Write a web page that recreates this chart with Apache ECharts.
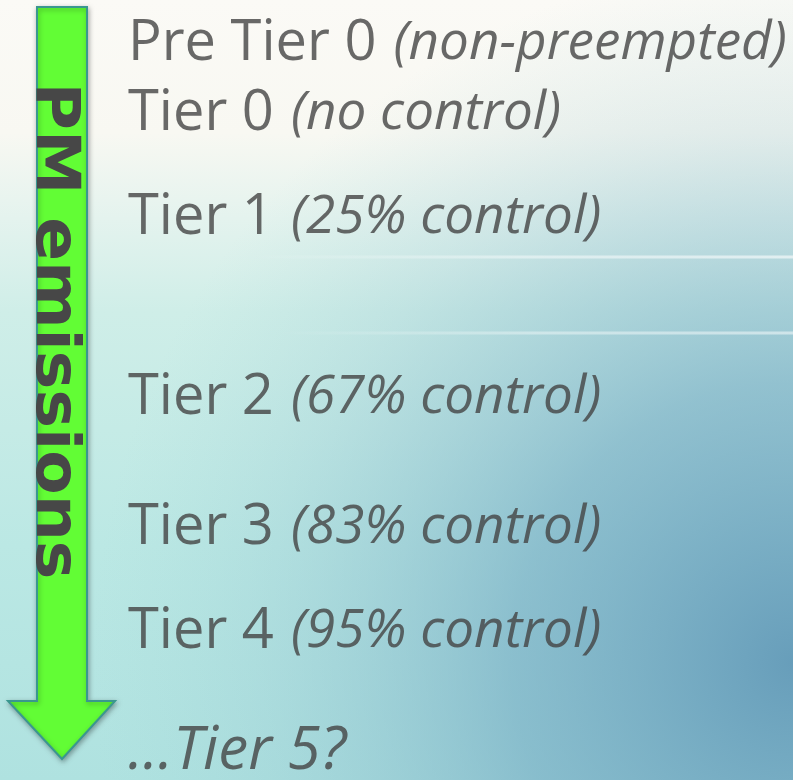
<!DOCTYPE html>
<html>
<head>
<meta charset="utf-8">
<script src="https://cdn.jsdelivr.net/npm/echarts@6/dist/echarts.min.js"></script>
<style>
html,body{margin:0;padding:0;background:#fff;}
#chart{width:793px;height:780px;}
</style>
</head>
<body>
<div id="chart"></div>
<script>
// ---- data ----
const tierNames = ['Pre Tier 0', 'Tier 0', 'Tier 1', 'Tier 2', 'Tier 3', 'Tier 4', '...Tier 5?'];
const controlNotes = ['(non-preempted)', '(no control)', '(25% control)', '(67% control)', '(83% control)', '(95% control)', ''];
// row level on a 0 (top) .. 100 (bottom) emission-ordering scale
const rowLevel = [5.6, 14.6, 27.9, 51.0, 67.7, 81.0, 96.4];
const arrowLabel = 'PM emissions';

const chart = echarts.init(document.getElementById('chart'), null, {renderer: 'canvas'});
const W = 793, H = 780;
const textColor = '#444444';
const FONT = '"Open Sans", "Noto Sans", sans-serif';

const seriesData = rowLevel.map((v) => ({value: [0, v]}));

const option = {
  animation: false,
  backgroundColor: new echarts.graphic.LinearGradient(0, 0, 0, 1, [
    {offset: 0, color: '#fbfaf6'},
    {offset: 0.17, color: '#f8f8f2'},
    {offset: 0.28, color: '#e4f3ee'},
    {offset: 0.40, color: '#cfeee8'},
    {offset: 0.70, color: '#bbe8e4'},
    {offset: 1, color: '#afe2e0'}
  ]),
  grid: {left: 128, right: 0, top: 0, bottom: 0},
  xAxis: {type: 'value', min: 0, max: 1, show: false},
  yAxis: {type: 'value', min: 0, max: 100, inverse: true, show: false},
  graphic: [
    {
      type: 'rect', z: -10, silent: true,
      shape: {x: 0, y: 0, width: W, height: H},
      style: {
        fill: new echarts.graphic.RadialGradient(1.0, 0.85, 0.9, [
          {offset: 0, color: 'rgba(95,150,182,0.90)'},
          {offset: 0.4, color: 'rgba(110,165,192,0.60)'},
          {offset: 0.75, color: 'rgba(140,190,205,0.22)'},
          {offset: 1, color: 'rgba(160,210,215,0)'}
        ])
      }
    },
    {
      type: 'line', z: -9, silent: true,
      shape: {x1: 250, y1: 257, x2: W, y2: 257},
      style: {
        lineWidth: 3,
        stroke: new echarts.graphic.LinearGradient(0, 0, 1, 0, [
          {offset: 0, color: 'rgba(255,255,255,0)'},
          {offset: 0.5, color: 'rgba(255,255,255,0.45)'},
          {offset: 1, color: 'rgba(255,255,255,0.6)'}
        ])
      }
    },
    {
      type: 'line', z: -9, silent: true,
      shape: {x1: 280, y1: 333, x2: W, y2: 333},
      style: {
        lineWidth: 3,
        stroke: new echarts.graphic.LinearGradient(0, 0, 1, 0, [
          {offset: 0, color: 'rgba(255,255,255,0)'},
          {offset: 0.5, color: 'rgba(255,255,255,0.4)'},
          {offset: 1, color: 'rgba(255,255,255,0.5)'}
        ])
      }
    },
    {
      type: 'polygon', z: 10, silent: true,
      shape: {points: [[37, 7], [87, 7], [87, 701], [115, 701], [62, 759], [8, 701], [37, 701]]},
      style: {
        fill: '#62fd35', stroke: '#3a978f', lineWidth: 2,
        shadowBlur: 5, shadowColor: 'rgba(0,0,0,0.3)', shadowOffsetX: 1, shadowOffsetY: 2
      }
    },
    {
      type: 'text', z: 11, silent: true,
      x: 53, y: 331, rotation: -Math.PI / 2, scaleX: 1.08,
      style: {
        text: arrowLabel, fill: '#474747',
        font: 'bold 60px "DejaVu Sans", Verdana, sans-serif',
        align: 'center', verticalAlign: 'middle'
      }
    }
  ],
  series: [{
    type: 'scatter',
    symbolSize: 0,
    data: seriesData,
    label: {
      show: true,
      position: 'right',
      distance: 0,
      formatter: (p) => {
        const i = p.dataIndex;
        if (!controlNotes[i]) return '{c|' + tierNames[i] + '}';
        return '{a|' + tierNames[i] + '}{b|' + controlNotes[i] + '}';
      },
      rich: {
        a: {fontFamily: FONT, fontSize: 56, color: textColor, lineHeight: 60},
        b: {fontFamily: FONT, fontStyle: 'italic', fontSize: 53, color: textColor, lineHeight: 60, padding: [0, 0, 0, 17]},
        c: {fontFamily: FONT, fontStyle: 'italic', fontSize: 60, color: textColor, lineHeight: 64}
      }
    }
  }]
};
chart.setOption(option);
</script>
</body>
</html>
